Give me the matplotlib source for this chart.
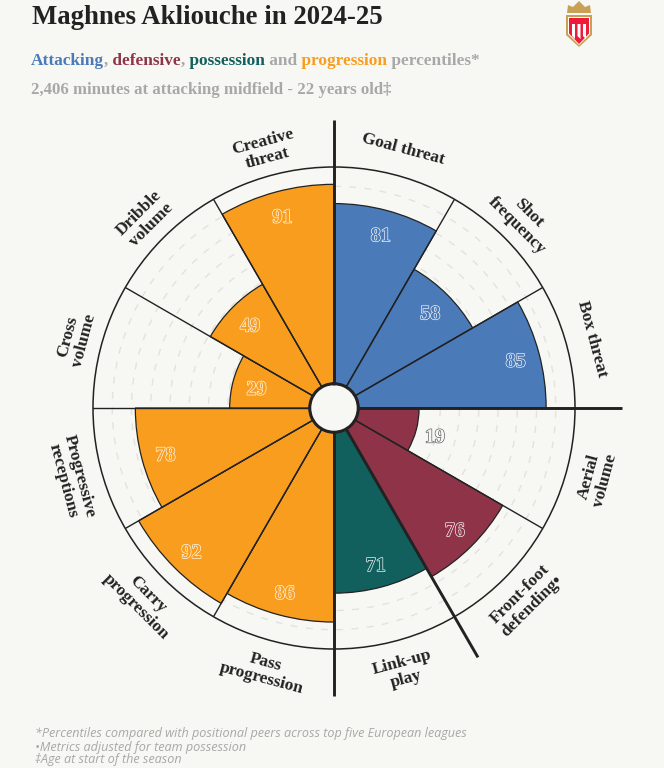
import numpy as np
import matplotlib
matplotlib.use("Agg")
import matplotlib.pyplot as plt
from matplotlib.patches import Polygon
import matplotlib.patheffects as pe

# percentile values, clockwise from twelve o'clock
metrics = ["Goal threat", "Shot\nfrequency", "Box threat", "Aerial\nvolume",
           "Front-foot\ndefending\u2022", "Link-up\nplay", "Pass\nprogression",
           "Carry\nprogression", "Progressive\nreceptions", "Cross\nvolume",
           "Dribble\nvolume", "Creative\nthreat"]
values = [81, 58, 85, 19, 76, 71, 86, 92, 78, 29, 49, 91]
groups = ["att", "att", "att", "def", "def", "pos", "prog", "prog", "prog", "prog", "prog", "prog"]
rings = [30, 40, 50, 60, 70, 80, 90]

BG = "#f7f7f3"
INK = "#222222"
GREY = "#a8a8a8"
colours = {"att": "#4a7ab8", "def": "#8f3448", "pos": "#11605e", "prog": "#f99d1e"}
SLAB = "Liberation Serif"

W, H = 664, 768
fig = plt.figure(figsize=(W / 100, H / 100), dpi=100, facecolor=BG)

# polar axes: centre (334, 408), outer radius 241 px
ax = fig.add_axes([93 / W, (H - 649) / H, 482 / W, 482 / H], projection="polar", facecolor=BG)
ax.set_theta_zero_location("N")
ax.set_theta_direction(-1)
ax.set_rorigin(-25.2)
ax.set_ylim(-12.6, 100)

step = np.deg2rad(30)
theta = np.arange(12) * step + step / 2
ax.bar(theta, np.array(values) + 12.6, width=step, bottom=-12.6,
       color=[colours[g] for g in groups], edgecolor=INK, linewidth=0.9, zorder=2)

ax.set_xticks([])
ax.set_yticks(rings)
ax.set_yticklabels([])
ax.set_axisbelow(True)
ax.grid(True, axis="y", color="#e2e2e0", linewidth=1.0, linestyle=(0, (5, 6)))
ax.grid(False, axis="x")
ax.spines["polar"].set_linewidth(1.1)
ax.spines["polar"].set_color(INK)
ax.spines["inner"].set_linewidth(2.2)
ax.spines["inner"].set_color(INK)
ax.spines["inner"].set_zorder(6)

# thin spokes, then the four heavy dividers that run past the rim
for i in range(12):
    ax.plot([i * step, i * step], [-12.6, 100], color=INK, lw=1.0, zorder=3)
for deg in [0, 90, 150, 180]:
    a = np.deg2rad(deg)
    ax.plot([a, a], [-12.6, 124.4], color=INK, lw=2.1, zorder=5, clip_on=False,
            solid_capstyle="butt")

for a, m, v, g in zip(theta, metrics, values, groups):
    deg = np.rad2deg(a)
    rot = -deg if (deg < 90 or deg > 270) else 180 - deg
    ax.text(a, 114.8, m, rotation=rot, rotation_mode="anchor", ha="center", va="center_baseline",
            multialignment="center", linespacing=1.08,
            fontfamily=SLAB, fontweight="bold", fontsize=12.5, color=INK, clip_on=False)
    inside = v >= 25
    r = v - 12.5 if inside else v + 10
    fill = colours[g] if inside else BG
    edge = "white" if inside else "#555555"
    ax.text(a, r, str(v), ha="center", va="center_baseline", fontfamily=SLAB,
            fontweight="bold", fontsize=14.5, color=fill, zorder=7,
            path_effects=[pe.Stroke(linewidth=0.9, foreground=edge), pe.Normal()])

# overlay in pixel coordinates for header, footer and badge
over = fig.add_axes([0, 0, 1, 1], facecolor="none")
over.set_xlim(0, W)
over.set_ylim(H, 0)
over.axis("off")

over.text(32, 17, "Maghnes Akliouche in 2024-25", fontfamily=SLAB, fontweight="bold",
          fontsize=19.3, color=INK, va="center", ha="left")

# subtitle pieces are placed one after the other
pieces = [("Attacking", colours["att"]), (",", GREY), ("\u00a0defensive", colours["def"]),
          (",", GREY), ("\u00a0possession", colours["pos"]), ("\u00a0and", GREY),
          ("\u00a0progression", colours["prog"]), ("\u00a0percentiles*", GREY)]
fig.canvas.draw()
rend = fig.canvas.get_renderer()
x = 31.0
for txt, col in pieces:
    t = over.text(x, 61, txt, fontfamily=SLAB, fontweight="bold", fontsize=12.4, color=col,
                  va="center", ha="left")
    x += t.get_window_extent(rend).width

over.text(31, 90, "2,406 minutes at attacking midfield - 22 years old\u2021", fontfamily=SLAB,
          fontweight="bold", fontsize=12.1, color=GREY, va="center", ha="left")

notes = ["*Percentiles compared with positional peers across top five European leagues",
         "\u2022Metrics adjusted for team possession",
         "\u2021Age at start of the season"]
for y, n in zip([733, 747, 760], notes):
    over.text(35, y, n, fontfamily="Open Sans", fontstyle="italic", fontsize=9.05, color=GREY,
              va="center", ha="left")

# club badge
over.add_patch(Polygon([(566, 15), (592, 15), (592, 35), (579, 47), (566, 35)],
                       fc="#c9a155", ec="none"))
over.add_patch(Polygon([(568, 17), (590, 17), (590, 34), (579, 45), (568, 34)],
                       fc="white", ec="none"))
over.add_patch(Polygon([(569, 18), (589, 18), (589, 33.5), (579, 44), (569, 33.5)],
                       fc="#ee1c3a", ec="none"))
for sx in [572, 577.5, 583]:
    over.add_patch(Polygon([(sx, 24), (sx + 3, 24), (sx + 3, 39), (sx, 36)],
                           fc="white", ec="none"))
over.add_patch(Polygon([(567, 13), (568, 5), (573, 7), (579, 1), (585, 7), (590, 5), (591, 13)],
                       fc="#c9a155", ec="none"))

fig.savefig("out.png", dpi=100, facecolor=BG)
